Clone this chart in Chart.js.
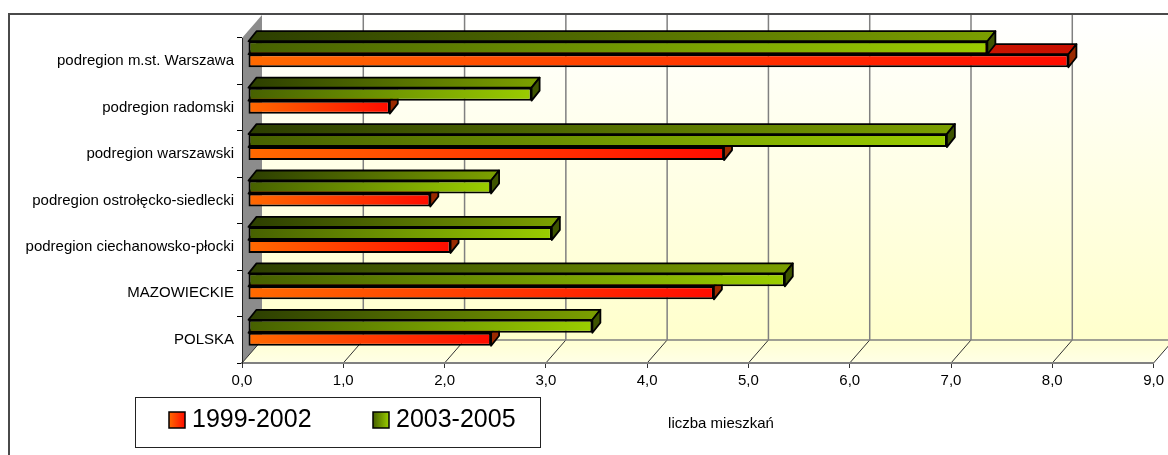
<!DOCTYPE html>
<html>
<head>
<meta charset="utf-8">
<script src="https://cdn.jsdelivr.net/npm/chart.js@4/dist/chart.umd.min.js"></script>
<style>
    html, body { margin: 0; padding: 0; background: #fff; }
    #wrap { width: 1168px; height: 455px; }
</style>
</head>
<body>
<div id="wrap"><canvas id="chart" width="1168" height="455"></canvas></div>
<script>
const categories = [
    'podregion m.st. Warszawa',
    'podregion radomski',
    'podregion warszawski',
    'podregion ostrołęcko-siedlecki',
    'podregion ciechanowsko-płocki',
    'MAZOWIECKIE',
    'POLSKA'
];
const series1999 = [8.1, 1.4, 4.7, 1.8, 2.0, 4.6, 2.4];
const series2003 = [7.3, 2.8, 6.9, 2.4, 3.0, 5.3, 3.4];
const xTickLabels = ['0,0', '1,0', '2,0', '3,0', '4,0', '5,0', '6,0', '7,0', '8,0', '9,0'];
const axisTitle = 'liczba mieszkań';

const FONT = '"Liberation Sans", Arial, sans-serif';

// 3d offsets: bars sit a bit behind the front plane, the back wall further
const BAR_DX = 6, BAR_DY = -7;
const WALL_DX = 20, WALL_DY = -23;
const DEPTH_DX = 8, DEPTH_DY = -10;

const colors = {
    green: { front: ['#466000', '#9acd00'], top: ['#2c3e00', '#7a9e00'], side: '#3e5400' },
    orange: { front: ['#ff6a00', '#ff0c00'], top: ['#d83a00', '#c81000'], side: '#9a2a00' }
};

function barGradient(ctx, pal) {
    const chart = ctx.chart;
    if (!chart.chartArea || ctx.raw === undefined) return pal.front[0];
    const x = chart.scales.x;
    const g = chart.ctx.createLinearGradient(x.getPixelForValue(0), 0, x.getPixelForValue(ctx.raw), 0);
    g.addColorStop(0, pal.front[0]);
    g.addColorStop(1, pal.front[1]);
    return g;
}

const scene3d = {
    id: 'scene3d',
    beforeDraw(chart) {
        const { ctx, chartArea: a } = chart;
        const x = chart.scales.x;
        ctx.save();
        // outer frame
        ctx.strokeStyle = '#4a4a4a';
        ctx.lineWidth = 2;
        ctx.strokeRect(9, 14, 1200, 500);

        // back wall
        const wl = a.left + WALL_DX, wt = a.top + WALL_DY, wb = a.bottom + WALL_DY;
        let g = ctx.createLinearGradient(0, wt, 0, wb);
        g.addColorStop(0, '#ffffff');
        g.addColorStop(1, '#ffffcc');
        ctx.fillStyle = g;
        ctx.fillRect(wl, wt, a.right + WALL_DX - wl, wb - wt);

        // floor
        g = ctx.createLinearGradient(0, wb, 0, a.bottom);
        g.addColorStop(0, '#ffffd2');
        g.addColorStop(1, '#ffffe6');
        ctx.fillStyle = g;
        ctx.beginPath();
        ctx.moveTo(a.left, a.bottom);
        ctx.lineTo(a.right, a.bottom);
        ctx.lineTo(a.right + WALL_DX, wb);
        ctx.lineTo(wl, wb);
        ctx.closePath();
        ctx.fill();

        // left wall
        ctx.fillStyle = '#8c8c8c';
        ctx.beginPath();
        ctx.moveTo(a.left, a.top);
        ctx.lineTo(wl, wt);
        ctx.lineTo(wl, wb);
        ctx.lineTo(a.left, a.bottom);
        ctx.closePath();
        ctx.fill();

        // grid lines on the wall and the floor
        x.ticks.forEach((t, i) => {
            const px = x.getPixelForValue(t.value);
            if (i > 0) {
                ctx.strokeStyle = '#808080';
                ctx.lineWidth = 1.5;
                ctx.beginPath();
                ctx.moveTo(px + WALL_DX, wt);
                ctx.lineTo(px + WALL_DX, wb);
                ctx.stroke();
            }
            ctx.strokeStyle = '#333';
            ctx.lineWidth = 1;
            ctx.beginPath();
            ctx.moveTo(px, a.bottom);
            ctx.lineTo(px + WALL_DX, wb);
            ctx.stroke();
        });
        ctx.strokeStyle = '#808080';
        ctx.lineWidth = 1.5;
        ctx.beginPath();
        ctx.moveTo(wl, wb);
        ctx.lineTo(a.right + WALL_DX, wb);
        ctx.stroke();
        ctx.restore();
    },
    beforeDatasetsDraw(chart) {
        chart.ctx.save();
        chart.ctx.translate(BAR_DX, BAR_DY);
    },
    afterDatasetDraw(chart, args) {
        const { ctx } = chart;
        const pal = args.index === 0 ? colors.green : colors.orange;
        ctx.save();
        ctx.strokeStyle = '#000';
        ctx.lineWidth = 1.8;
        ctx.lineJoin = 'round';
        args.meta.data.forEach(bar => {
            const p = bar.getProps(['x', 'y', 'base', 'height'], true);
            const top = p.y - p.height / 2, bottom = p.y + p.height / 2;
            const g = ctx.createLinearGradient(p.base, 0, p.x, 0);
            g.addColorStop(0, pal.top[0]);
            g.addColorStop(1, pal.top[1]);
            ctx.fillStyle = g;
            ctx.beginPath();
            ctx.moveTo(p.base, top);
            ctx.lineTo(p.base + DEPTH_DX, top + DEPTH_DY);
            ctx.lineTo(p.x + DEPTH_DX, top + DEPTH_DY);
            ctx.lineTo(p.x, top);
            ctx.closePath();
            ctx.fill();
            ctx.stroke();
            ctx.fillStyle = pal.side;
            ctx.beginPath();
            ctx.moveTo(p.x, top);
            ctx.lineTo(p.x + DEPTH_DX, top + DEPTH_DY);
            ctx.lineTo(p.x + DEPTH_DX, bottom + DEPTH_DY);
            ctx.lineTo(p.x, bottom);
            ctx.closePath();
            ctx.fill();
            ctx.stroke();
        });
        ctx.restore();
    },
    afterDatasetsDraw(chart) {
        chart.ctx.restore();
    },
    afterDraw(chart) {
        const { ctx } = chart;
        ctx.save();
        // legend box
        ctx.fillStyle = '#fff';
        ctx.fillRect(135.5, 397.5, 405, 50);
        ctx.strokeStyle = '#222';
        ctx.lineWidth = 1;
        ctx.strokeRect(135.5, 397.5, 405, 50);
        const items = [
            { label: chart.data.datasets[1].label, pal: colors.orange, x: 169 },
            { label: chart.data.datasets[0].label, pal: colors.green, x: 373 }
        ];
        items.forEach(it => {
            const g = ctx.createLinearGradient(it.x, 0, it.x + 16, 0);
            g.addColorStop(0, it.pal.front[0]);
            g.addColorStop(1, it.pal.front[1]);
            ctx.fillStyle = g;
            ctx.fillRect(it.x, 412, 16, 16);
            ctx.strokeStyle = '#000';
            ctx.lineWidth = 1.5;
            ctx.strokeRect(it.x, 412, 16, 16);
            ctx.fillStyle = '#000';
            ctx.font = '25px ' + FONT;
            ctx.textBaseline = 'alphabetic';
            ctx.fillText(it.label, it.x + 23, 426.5);
        });
        // axis title
        ctx.font = '15px ' + FONT;
        ctx.textAlign = 'center';
        ctx.textBaseline = 'middle';
        ctx.fillStyle = '#000';
        ctx.fillText(axisTitle, 721, 424);
        ctx.restore();
    }
};

const chart = new Chart(document.getElementById('chart'), { // eslint-disable-line
    type: 'bar',
    data: {
        labels: categories,
        datasets: [
            {
                label: '2003-2005',
                data: series2003,
                backgroundColor: ctx => barGradient(ctx, colors.green),
                borderColor: '#000',
                borderWidth: 2,
                borderSkipped: false,
                clip: false
            },
            {
                label: '1999-2002',
                data: series1999,
                backgroundColor: ctx => barGradient(ctx, colors.orange),
                borderColor: '#000',
                borderWidth: 2,
                borderSkipped: false,
                clip: false
            }
        ]
    },
    options: {
        indexAxis: 'y',
        responsive: false,
        devicePixelRatio: 1,
        animation: false,
        layout: {
            padding: { top: 38, right: 14, bottom: 62, left: 0 }
        },
        datasets: {
            bar: {
                categoryPercentage: 0.56,
                barPercentage: 1
            }
        },
        plugins: {
            legend: { display: false },
            tooltip: { enabled: false }
        },
        scales: {
            x: {
                min: 0,
                max: 9,
                ticks: {
                    stepSize: 1,
                    maxRotation: 0,
                    autoSkip: false,
                    padding: 4,
                    color: '#000',
                    font: { family: FONT, size: 15 },
                    callback: (value, index) => xTickLabels[index]
                },
                grid: {
                    drawOnChartArea: false,
                    tickLength: 5,
                    color: '#333'
                },
                border: { color: '#808080', width: 2 },
                afterFit: scale => { scale.height = 30; }
            },
            y: {
                ticks: {
                    padding: 3,
                    color: '#000',
                    font: { family: FONT, size: 15 }
                },
                grid: {
                    drawOnChartArea: false,
                    offset: true,
                    tickLength: 5,
                    color: '#000'
                },
                border: { color: '#222', width: 1 },
                afterFit: scale => { scale.width = 242; }
            }
        }
    },
    plugins: [scene3d]
});
</script>
</body>
</html>
